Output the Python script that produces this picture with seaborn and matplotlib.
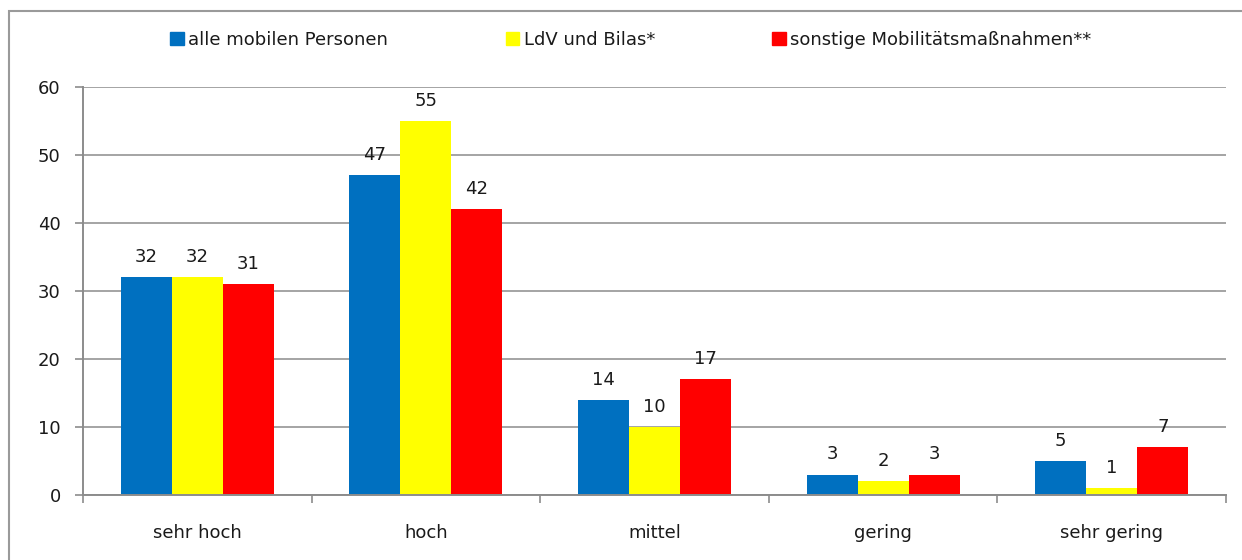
import matplotlib.pyplot as plt
import matplotlib.patches as mpatches
import pandas as pd
import seaborn as sns

categories = ["sehr hoch", "hoch", "mittel", "gering", "sehr gering"]
series = ["alle mobilen Personen", "LdV und Bilas*", "sonstige Mobilitätsmaßnahmen**"]
alle = [32, 47, 14, 3, 5]
ldv = [32, 55, 10, 2, 1]
sonstige = [31, 42, 17, 3, 7]
colors = ["#0070C0", "#FFFF00", "#FF0000"]

rows = []
for name, vals in zip(series, [alle, ldv, sonstige]):
  for cat, v in zip(categories, vals):
    rows.append({"cat": cat, "serie": name, "wert": v})
df = pd.DataFrame(rows)


def main():
  sns.set_style("white")
  plt.rcParams["font.family"] = ["DejaVu Sans"]
  fs = 13
  txt = "#1a1a1a"
  grid_c = "#8c8c8c"

  fig = plt.figure(figsize=(12.42, 5.6), dpi=100)
  ax = fig.add_axes([83 / 1242, 65 / 560, (1226 - 83) / 1242, (495 - 87) / 560])

  # outer frame of the chart
  fig.patches.append(mpatches.Rectangle(
      (9 / 1242, -0.1), 1.2, (560 - 11) / 560 + 0.1, transform=fig.transFigure,
      fill=False, edgecolor="#9a9a9a", linewidth=1.5))

  sns.barplot(data=df, x="cat", y="wert", hue="serie", order=categories,
              hue_order=series, palette=colors, width=0.67, gap=0,
              saturation=1, edgecolor="none", ax=ax, legend=False)

  for cont in ax.containers:
    ax.bar_label(cont, padding=8, fontsize=fs, color=txt)

  ax.set_ylim(0, 60)
  ax.set_xlim(-0.5, 4.5)
  ax.set_yticks(range(0, 61, 10))
  ax.yaxis.grid(True, color=grid_c, linewidth=1.1)
  ax.set_axisbelow(True)
  ax.set_xlabel("")
  ax.set_ylabel("")

  ax.set_xticks([i - 0.5 for i in range(6)])
  ax.set_xticklabels([])
  ax.set_xticks(range(5), minor=True)
  ax.set_xticklabels(categories, minor=True)
  ax.tick_params(axis="x", which="major", length=6, width=1.2, color=grid_c,
                 direction="out", bottom=True)
  ax.tick_params(axis="x", which="minor", length=0, pad=21, labelsize=fs,
                 labelcolor=txt)
  ax.tick_params(axis="y", length=6, width=1.2, color=grid_c, direction="out",
                 left=True, pad=10, labelsize=fs, labelcolor=txt)

  for s in ["top", "right"]:
    ax.spines[s].set_visible(False)
  for s in ["left", "bottom"]:
    ax.spines[s].set_color(grid_c)
    ax.spines[s].set_linewidth(1.4)

  handles = [mpatches.Patch(color=c) for c in colors]
  fig.legend(handles, series, loc="center", bbox_to_anchor=(631 / 1242, 1 - 40 / 560),
             ncol=3, frameon=False, fontsize=fs, handlelength=0.75,
             handleheight=0.75, handletextpad=0.25, columnspacing=6.5,
             labelcolor=txt)

  fig.savefig("out.png", dpi=100)
  plt.close(fig)


if __name__ == '__main__':
  main()
